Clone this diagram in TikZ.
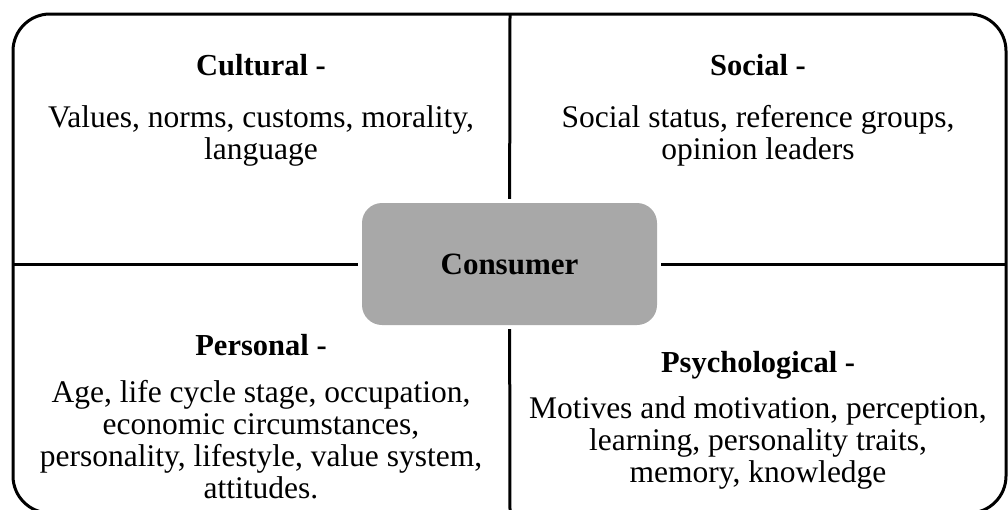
\documentclass[tikz,border=0pt]{standalone}
\usepackage{fontspec}
\setmainfont{Liberation Serif}
\usepackage{tikz}

\begin{document}
\begin{tikzpicture}[x=1pt,y=-1pt]
            \tikzstyle{every node}+=[inner sep=0pt, font=\fontsize{31.5}{32}\selectfont]
            \tikzstyle{head}=[anchor=base, font=\fontsize{30.5}{32}\selectfont\bfseries]
            \tikzstyle{body}=[anchor=base, align=center]
            \tikzstyle{divider}=[black, line width=3pt, shorten >=4pt]
            \useasboundingbox (0,0) rectangle (1008,509);
            \draw [black, line width=3pt, rounded corners=37pt] (13,14) rectangle (1006,513);
            \node (cons) [fill={rgb,255:red,168;green,168;blue,168}, rounded corners=20pt,
                minimum width=295pt, minimum height=122pt,
                font=\fontsize{31}{32}\selectfont\bfseries] at (509.5,264) {Consumer};
            \coordinate (top) at (510,14);
            \coordinate (bot) at (510,513);
            \coordinate (lft) at (13,264);
            \coordinate (rgt) at (1006,264);
            \draw [divider] (top) -- (cons);
            \draw [divider] (bot) -- (cons);
            \draw [divider] (lft) -- (cons);
            \draw [divider] (rgt) -- (cons);
            % cultural
            \node (cult) [head] at (261,75) {Cultural -};
            \node (cultA) [body] at (261,159) {Values, norms, customs, morality,\\language};
            % social
            \node (soc) [head] at (758,75) {Social -};
            \node (socA) [body] at (758,159) {Social status, reference groups,\\opinion leaders};
            % personal
            \node (pers) [head] at (261,355) {Personal -};
            \node (persA) [body] at (261,498) {Age, life cycle stage, occupation,\\economic circumstances,\\personality, lifestyle, value system,\\attitudes.};
            % psychological
            \node (psy) [head] at (758,372) {Psychological -};
            \node (psyA) [body] at (758,482) {Motives and motivation, perception,\\learning, personality traits,\\memory, knowledge};
        \end{tikzpicture}
\end{document}
